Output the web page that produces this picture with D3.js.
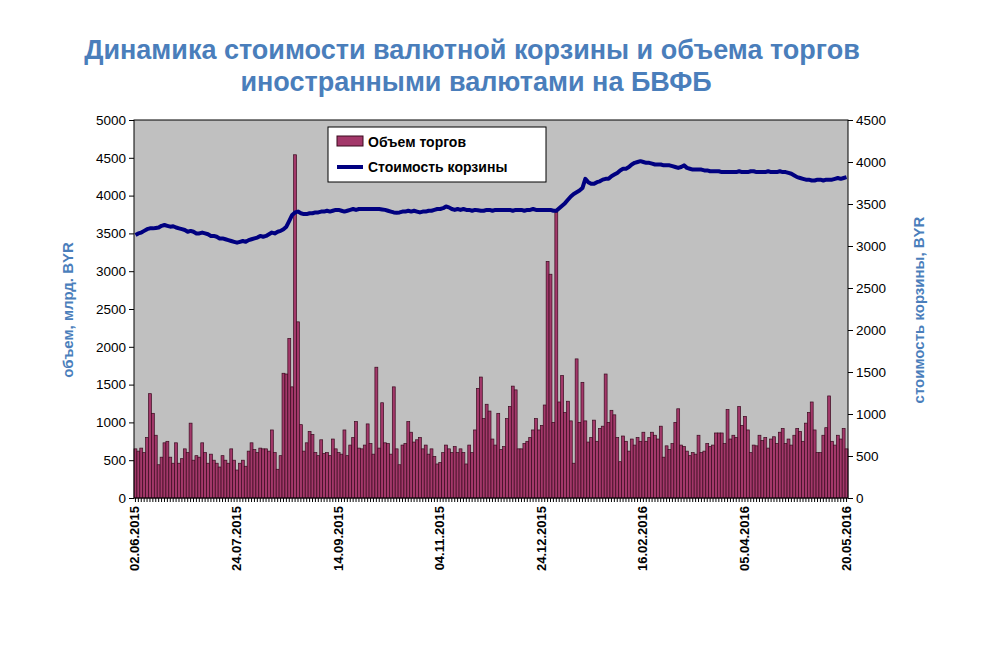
<!DOCTYPE html><html><head><meta charset="utf-8"><script src="https://cdn.jsdelivr.net/npm/d3@7"></script>
<style>body{margin:0;background:#fff}text{font-family:Arial,"Liberation Sans",sans-serif}</style></head><body><svg id="c" width="1000" height="647"></svg><script>
const volume=[650,620,660,600,800,1380,1120,830,440,540,730,750,540,460,730,460,520,650,600,990,500,560,540,730,600,460,580,500,460,410,560,500,460,650,500,
370,460,500,420,620,730,640,600,660,650,650,620,900,600,380,560,1650,1640,2110,1470,4540,2330,970,620,730,880,840,600,560,770,590,600,560,780,650,
600,580,900,560,700,800,1010,660,650,700,980,720,580,1730,660,1260,730,720,580,1470,650,440,700,720,1010,870,740,770,800,650,700,580,650,550,450,
470,600,700,650,600,680,600,650,600,450,700,600,900,1450,1600,1050,1240,1150,780,700,1120,640,680,1050,1210,1480,1430,650,650,720,750,800,900,1050,900,
960,1230,3130,2960,1000,3780,1270,1620,1130,1280,1020,460,1840,1000,1530,1020,740,800,1030,750,920,950,1640,1000,1160,1100,800,480,820,750,620,780,700,800,750,
870,750,800,870,830,780,950,540,690,640,720,1000,1180,700,680,620,560,600,580,830,600,620,720,680,700,860,860,860,720,1170,780,830,800,1210,960,
1080,900,600,700,690,830,760,800,660,780,810,720,870,920,720,780,700,830,920,880,750,990,1130,1270,900,600,600,830,930,1350,750,700,830,780,920,650];
const basket=[3130,3150,3160,3180,3200,3210,3210,3215,3220,3240,3250,3240,3230,3235,3220,3210,3200,3190,3170,3180,
3170,3150,3150,3160,3150,3140,3120,3120,3110,3090,3090,3080,3070,3060,3050,3040,3050,3060,3050,3070,
3080,3090,3100,3120,3110,3120,3140,3160,3150,3170,3180,3200,3230,3300,3370,3400,3410,3390,3380,3380,
3390,3390,3400,3400,3410,3410,3420,3410,3420,3430,3430,3420,3410,3420,3430,3440,3430,3440,3440,3440,
3440,3440,3440,3440,3440,3435,3430,3420,3410,3400,3395,3400,3410,3410,3420,3410,3420,3410,3400,3410,
3410,3420,3420,3430,3440,3440,3450,3470,3460,3440,3430,3440,3430,3440,3430,3430,3420,3430,3425,3420,
3420,3430,3430,3420,3430,3430,3430,3430,3430,3430,3420,3430,3430,3430,3420,3430,3430,3440,3430,3430,
3430,3430,3430,3430,3420,3420,3450,3480,3510,3550,3590,3620,3640,3660,3690,3800,3760,3740,3740,3760,
3770,3790,3800,3800,3830,3850,3870,3900,3920,3920,3940,3970,3990,4000,4010,4000,3990,3990,3980,3970,
3970,3970,3960,3960,3960,3950,3940,3930,3940,3960,3930,3920,3910,3910,3910,3910,3900,3900,3890,3890,
3890,3890,3880,3880,3880,3880,3880,3880,3890,3880,3880,3880,3890,3890,3880,3880,3880,3880,3890,3880,
3880,3880,3890,3880,3880,3870,3860,3840,3820,3810,3800,3790,3790,3780,3780,3790,3790,3780,3790,3790,
3790,3800,3810,3800,3810,3820];
const dateLabels=[[0,"02.06.2015"],[35,"24.07.2015"],[70,"14.09.2015"],[105,"04.11.2015"],[140,"24.12.2015"],[175,"16.02.2016"],[210,"05.04.2016"],[245,"20.05.2016"]];
const leftTicks=[0,500,1000,1500,2000,2500,3000,3500,4000,4500,5000];
const rightTicks=[0,500,1000,1500,2000,2500,3000,3500,4000,4500];
const svg=d3.select("#c");
const L=134,R=848,T=120,B=498;
const idx=d3.range(volume.length);
const x=d3.scaleBand().domain(idx).range([L,R]).paddingInner(0);
const yL=d3.scaleLinear().domain([0,5000]).range([B,T]);
const yR=d3.scaleLinear().domain([0,4500]).range([B,T]);
const blue="#4a7ebb";
svg.append("text").attr("x",472).attr("y",59).attr("text-anchor","middle").attr("font-size",27).attr("font-weight","bold").attr("fill",blue).text("Динамика стоимости валютной корзины и объема торгов");
svg.append("text").attr("x",476).attr("y",91).attr("text-anchor","middle").attr("font-size",27).attr("font-weight","bold").attr("fill",blue).text("иностранными валютами на БВФБ");
svg.append("rect").attr("x",L).attr("y",T).attr("width",R-L).attr("height",B-T).attr("fill","#c0c0c0");
svg.append("g").selectAll("rect").data(idx).join("rect").attr("x",i=>x(i)).attr("width",x.bandwidth()).attr("y",i=>yL(volume[i])).attr("height",i=>B-yL(volume[i])).attr("fill","#a3386a").attr("stroke","#3a0a1e").attr("stroke-width",0.7);
svg.append("path").datum(idx).attr("d",d3.line().x(i=>x(i)+x.bandwidth()/2).y(i=>yR(basket[i]))).attr("fill","none").attr("stroke","#000080").attr("stroke-width",4).attr("stroke-linejoin","round");
svg.append("rect").attr("x",L).attr("y",T).attr("width",R-L).attr("height",B-T).attr("fill","none").attr("stroke","#000");
const gl=svg.append("g").attr("transform",`translate(${L},0)`).call(d3.axisLeft(yL).tickValues(leftTicks).tickSize(5).tickFormat(d3.format("d")));
const gr=svg.append("g").attr("transform",`translate(${R},0)`).call(d3.axisRight(yR).tickValues(rightTicks).tickSize(5).tickFormat(d3.format("d")));
[gl,gr].forEach(g=>{g.select(".domain").remove();g.selectAll("text").attr("font-size",13.5).attr("fill","#000").attr("font-family","Arial");});
const gb=svg.append("g").attr("transform",`translate(0,${B})`).call(d3.axisBottom(x).tickValues(idx).tickSize(4).tickFormat(""));
gb.select(".domain").remove();
svg.append("g").selectAll("text").data(dateLabels).join("text").attr("transform",d=>`translate(${x(d[0])+x.bandwidth()/2+4},506) rotate(-90)`).attr("text-anchor","end").attr("font-size",13).attr("font-weight","bold").text(d=>d[1]);
svg.append("text").attr("transform","translate(73,310) rotate(-90)").attr("text-anchor","middle").attr("font-size",15).attr("font-weight","bold").attr("fill",blue).text("объем, млрд. BYR");
svg.append("text").attr("transform","translate(924,310) rotate(-90)").attr("text-anchor","middle").attr("font-size",15).attr("font-weight","bold").attr("fill",blue).text("стоимость корзины, BYR");
const lg=svg.append("g");
lg.append("rect").attr("x",328).attr("y",127).attr("width",218).attr("height",55).attr("fill","#fff").attr("stroke","#000");
lg.append("rect").attr("x",337).attr("y",136).attr("width",26).attr("height",10).attr("fill","#a3386a").attr("stroke","#3a0a1e");
lg.append("text").attr("x",368).attr("y",147).attr("font-size",14).attr("font-weight","bold").text("Объем торгов");
lg.append("line").attr("x1",337).attr("x2",363).attr("y1",167).attr("y2",167).attr("stroke","#000080").attr("stroke-width",4);
lg.append("text").attr("x",368).attr("y",172).attr("font-size",14).attr("font-weight","bold").text("Стоимость корзины");
</script></body></html>
